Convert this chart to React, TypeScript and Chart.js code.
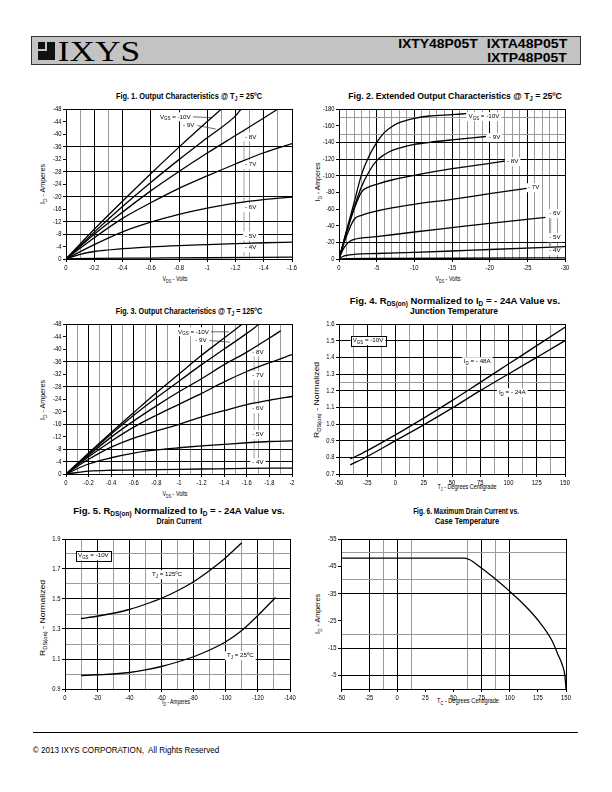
import React, { useEffect, useLayoutEffect, useRef, useState } from 'react';
import { Chart, registerables } from 'chart.js';

Chart.register(...registerables);

const SANS = "'Liberation Sans', Arial, Helvetica, sans-serif";
const SERIF = "'Liberation Serif', 'Times New Roman', serif";

// ---------------- Fig. 1 : Output Characteristics @ TJ = 25C (VDS V, ID A) ----------------
const fig1XLabels = [0, -0.2, -0.4, -0.6, -0.8, -1, -1.2, -1.4, -1.6];
const fig1YLabels = [0, -4, -8, -12, -16, -20, -24, -28, -32, -36, -40, -44, -48];
const fig1XBlack = [-0.2, -0.4, -0.6, -0.8, -1, -1.2, -1.4];
const fig1XGray = [-0.1, -0.3, -1.1, -1.3, -1.5];
const fig1YBlack = [-8, -12, -20, -28, -36];
const fig1YGray: number[] = [];
const fig1Vgs10 = [[0, 0], [-0.2, -9.5], [-0.4, -18.5], [-0.6, -27.3], [-0.8, -35.8], [-1.0, -44], [-1.1, -48]];
const fig1Vgs9 = [[0, 0], [-0.2, -8.6], [-0.4, -16.8], [-0.6, -24.5], [-0.8, -31.8], [-1.0, -38.8], [-1.2, -45.8], [-1.24, -48]];
const fig1Vgs8 = [[0, 0], [-0.2, -7.9], [-0.4, -15], [-0.6, -21.8], [-0.8, -28], [-1.0, -33.9], [-1.2, -39.5], [-1.4, -45.1], [-1.5, -48]];
const fig1Vgs7 = [[0, 0], [-0.2, -6.8], [-0.4, -13], [-0.6, -18], [-0.8, -22.6], [-1.0, -26.6], [-1.2, -30.4], [-1.4, -34], [-1.6, -36.9]];
const fig1Vgs6 = [[0, 0], [-0.2, -4.6], [-0.4, -8.7], [-0.6, -11.8], [-0.8, -14.3], [-1.0, -16.3], [-1.2, -17.9], [-1.4, -19], [-1.6, -19.8]];
const fig1Vgs5 = [[0, 0], [-0.1, -1.5], [-0.2, -2.4], [-0.4, -3.3], [-0.6, -3.9], [-0.8, -4.3], [-1.0, -4.6], [-1.2, -4.9], [-1.4, -5.2], [-1.6, -5.4]];
const fig1Vgs4 = [[0, 0], [-0.2, -0.2], [-0.6, -0.3], [-1.0, -0.4], [-1.6, -0.6]];

// ---------------- Fig. 2 : Extended Output Characteristics @ TJ = 25C ----------------
const fig2XLabels = [0, -5, -10, -15, -20, -25, -30];
const fig2YLabels = [0, -20, -40, -60, -80, -100, -120, -140, -160, -180];
const fig2XBlack = [-5, -10, -15, -20, -25];
const fig2XGray = [-1, -2, -3, -4, -6, -7, -8, -9, -11, -12, -13, -14, -16, -17, -18, -19, -21, -22, -23, -24, -26, -27, -28, -29];
const fig2YBlack = [-20, -100, -120, -140];
const fig2YGray = [-150, -170];
const fig2Vgs10 = [[0, 0], [-1, -34], [-2, -67.6], [-3, -101.6], [-4, -123.6], [-5, -139.6], [-6, -151.6], [-7, -158.8], [-8, -163.6], [-10, -168.8], [-12, -171.6], [-15, -173.2], [-16.9, -174.4]];
const fig2Vgs9 = [[0, 0], [-1, -33], [-2, -62], [-3, -87], [-4, -105], [-5, -118], [-6, -125], [-7, -130], [-8, -133], [-10, -137.5], [-12, -140], [-15, -143], [-19.5, -147]];
const fig2Vgs8 = [[0, 0], [-1, -31.6], [-2, -59.6], [-3, -80.5], [-4, -86.5], [-5, -89.6], [-7, -94.8], [-10, -100.4], [-15, -108.4], [-20, -114.8], [-22, -117.6]];
const fig2Vgs7 = [[0, 0], [-1, -27.5], [-2, -47.4], [-3, -52.4], [-5, -57.6], [-10, -65.6], [-15, -71.6], [-20, -78.4], [-24.9, -84.8]];
const fig2Vgs6 = [[0, 0], [-0.5, -11], [-1, -17.6], [-1.5, -21.5], [-2, -23.6], [-5, -26.8], [-10, -32.4], [-15, -37.6], [-20, -42.8], [-27.4, -50]];
const fig2Vgs5 = [[0, 0], [-0.5, -3], [-1, -4.4], [-2, -5.6], [-5, -6.6], [-10, -8], [-15, -9.6], [-20, -11.4], [-30, -14.8]];
const fig2Vgs4 = [[0, 0], [-1, -0.4], [-5, -0.6], [-15, -0.9], [-30, -1.4]];

// ---------------- Fig. 3 : Output Characteristics @ TJ = 125C ----------------
const fig3XLabels = [0, -0.2, -0.4, -0.6, -0.8, -1, -1.2, -1.4, -1.6, -1.8, -2];
const fig3YLabels = [0, -4, -8, -12, -16, -20, -24, -28, -32, -36, -40, -44, -48];
const fig3XBlack = [-0.2, -0.4, -0.6, -0.8, -1, -1.2, -1.4, -1.6, -1.8];
const fig3XGray = [-0.1, -0.3, -0.5, -0.7, -0.9, -1.1, -1.3, -1.5, -1.7, -1.9];
const fig3YBlack = [-4, -8, -16, -28, -36];
const fig3YGray: number[] = [];
const fig3Vgs10 = [[0, 0], [-0.2, -6.7], [-0.4, -13.3], [-0.6, -19.7], [-0.8, -26], [-1.0, -32], [-1.2, -38], [-1.4, -43.5], [-1.56, -48]];
const fig3Vgs9 = [[0, 0], [-0.2, -6.4], [-0.4, -12.8], [-0.6, -18.8], [-0.8, -24.4], [-1.0, -29.7], [-1.2, -35], [-1.4, -40], [-1.6, -45], [-1.71, -48]];
const fig3Vgs8 = [[0, 0], [-0.2, -6], [-0.4, -11.8], [-0.6, -17], [-0.8, -21.8], [-1.0, -26.3], [-1.2, -30.5], [-1.4, -35], [-1.6, -39], [-1.9, -45.8]];
const fig3Vgs7 = [[0, 0], [-0.2, -5.5], [-0.4, -10.5], [-0.6, -15], [-0.8, -18.8], [-1.0, -22.3], [-1.2, -25.8], [-1.4, -29.5], [-1.6, -32.8], [-1.8, -35.6], [-2.0, -38.2]];
const fig3Vgs6 = [[0, 0], [-0.2, -4.7], [-0.4, -8.6], [-0.6, -11.5], [-0.8, -13.8], [-1.0, -15.9], [-1.2, -18.3], [-1.4, -20.3], [-1.6, -22.2], [-1.8, -23.6], [-2.0, -24.8]];
const fig3Vgs5 = [[0, 0], [-0.2, -3.2], [-0.4, -5.2], [-0.6, -6.7], [-0.8, -7.7], [-1.0, -8.4], [-1.2, -9], [-1.4, -9.5], [-1.6, -10], [-1.8, -10.4], [-2.0, -10.6]];
const fig3Vgs4 = [[0, 0], [-0.2, -0.9], [-0.4, -1.2], [-0.8, -1.4], [-1.2, -1.6], [-1.6, -1.8], [-2.0, -1.9]];

// ---------------- Fig. 4 : RDS(on) normalized vs junction temperature ----------------
const fig4XLabels = [-50, -25, 0, 25, 50, 75, 100, 125, 150];
const fig4YLabels = [0.7, 0.8, 0.9, 1.0, 1.1, 1.2, 1.3, 1.4, 1.5, 1.6];
const fig4XBlack = [-25, 0, 25, 50, 75, 100, 125];
const fig4XGray = [-37.5, -12.5, 12.5, 37.5, 62.5, 87.5, 112.5, 137.5];
const fig4YBlack = [0.8, 0.9, 1.0, 1.1, 1.2, 1.3, 1.4, 1.5];
const fig4YGray = [1.25];
const fig4Temps = [-40, -25, 0, 25, 50, 75, 100, 125, 150];
const fig4Id48 = [0.79, 0.84, 0.935, 1.035, 1.14, 1.25, 1.36, 1.47, 1.58];
const fig4Id24 = [0.755, 0.805, 0.9, 0.995, 1.095, 1.2, 1.3, 1.4, 1.5];

// ---------------- Fig. 5 : RDS(on) normalized vs drain current ----------------
const fig5XLabels = [0, -20, -40, -60, -80, -100, -120, -140];
const fig5YLabels = [0.9, 1.1, 1.3, 1.5, 1.7, 1.9];
const fig5XBlack = [-20, -40, -60, -80, -100, -120];
const fig5XGray = [-10, -30, -50, -70, -90, -110, -130];
const fig5YBlack = [1.1, 1.3, 1.5, 1.7];
const fig5YGray = [1.0, 1.2, 1.4, 1.6, 1.8];
const fig5Id125 = [-10, -20, -30, -40, -50, -60, -70, -80, -90, -100, -110];
const fig5R125 = [1.37, 1.385, 1.405, 1.43, 1.465, 1.505, 1.555, 1.615, 1.69, 1.775, 1.875];
const fig5Id25 = [-10, -20, -30, -40, -50, -60, -70, -80, -90, -100, -110, -120, -131];
const fig5R25 = [0.99, 0.995, 1.0, 1.01, 1.027, 1.05, 1.08, 1.115, 1.16, 1.215, 1.29, 1.39, 1.51];

// ---------------- Fig. 6 : Maximum drain current vs case temperature ----------------
const fig6XLabels = [-50, -25, 0, 25, 50, 75, 100, 125, 150];
const fig6YLabels = [-55, -45, -35, -25, -15, -5];
const fig6XBlack = [-25, 0, 75, 100];
const fig6XGray = [-12.5, 12.5, 62.5, 87.5];
const fig6YBlack = [-35, -15, -5];
const fig6YGray = [-50, -40, -20];
const fig6Tc = [-50, 60, 75, 87.5, 100, 112.5, 125, 137.5, 143, 147, 149, 150];
const fig6Id = [-48, -48, -44.3, -40.2, -35.8, -31, -25.3, -17.8, -12.5, -8.5, -5, 0];

// ---------------- helpers ----------------
type Seg = { t: string; sub?: boolean };
type Note = { x: number; y: number; segs: Seg[]; box?: boolean };
type Leader = { x1: number; y1: number; x2: number; y2: number; gray?: boolean };
type AxisDef = { min: number; max: number; reverse?: boolean; labels: number[]; black: number[]; gray: number[]; fmt: (v: number) => string };
type Spec = { key: string; plot: number[]; x: AxisDef; y: AxisDef; series: number[][][]; notes: Note[]; leaders: Leader[] };

const S = (t: string): Seg => ({ t });
const B = (t: string): Seg => ({ t, sub: true });
const VGS10: Seg[] = [S('V'), B('GS'), S(' = -10V')];
const zip = (xs: number[], ys: number[]) => xs.map((x, i) => [x, ys[i]]);
const has = (list: number[], v: number) => list.some((a) => Math.abs(a - v) < 1e-6);
const fmtInt = (v: number) => String(v);
const fmt1 = (v: number) => v.toFixed(1);

const ML = 40, MT = 10, MR = 14, MB = 20;
const TICK = 7.5, SX = 0.78, NOTE = 6.2;

const specs: Spec[] = [
  {
    key: 'f1', plot: [66, 109, 292, 259],
    x: { min: -1.6, max: 0, reverse: true, labels: fig1XLabels, black: fig1XBlack, gray: fig1XGray, fmt: fmtInt },
    y: { min: -48, max: 0, reverse: true, labels: fig1YLabels, black: fig1YBlack, gray: fig1YGray, fmt: fmtInt },
    series: [fig1Vgs10, fig1Vgs9, fig1Vgs8, fig1Vgs7, fig1Vgs6, fig1Vgs5, fig1Vgs4],
    notes: [
      { x: -0.665, y: -45.5, segs: VGS10 }, { x: -0.828, y: -42.7, segs: [S('- 9V')] },
      { x: -1.267, y: -39.1, segs: [S('- 8V')] }, { x: -1.267, y: -30.2, segs: [S('- 7V')] },
      { x: -1.267, y: -16.4, segs: [S('- 6V')] }, { x: -1.267, y: -7.4, segs: [S('- 5V')] },
      { x: -1.267, y: -3.6, segs: [S('- 4V')] },
    ],
    leaders: [
      { x1: -0.9, y1: -45.5, x2: -1.035, y2: -45.2 }, { x1: -0.93, y1: -42.7, x2: -1.06, y2: -41.6 },
      { x1: -1.26, y1: -41, x2: -1.26, y2: -1, gray: true },
    ],
  },
  {
    key: 'f2', plot: [339, 109, 565, 259],
    x: { min: -30, max: 0, reverse: true, labels: fig2XLabels, black: fig2XBlack, gray: fig2XGray, fmt: fmtInt },
    y: { min: -180, max: 0, reverse: true, labels: fig2YLabels, black: fig2YBlack, gray: fig2YGray, fmt: fmtInt },
    series: [fig2Vgs10, fig2Vgs9, fig2Vgs8, fig2Vgs7, fig2Vgs6, fig2Vgs5, fig2Vgs4],
    notes: [
      { x: -17.2, y: -170.8, segs: VGS10 }, { x: -19.9, y: -145.6, segs: [S('- 9V')] },
      { x: -22.3, y: -116.8, segs: [S('- 8V')] }, { x: -25.1, y: -85.6, segs: [S('- 7V')] },
      { x: -27.9, y: -54.4, segs: [S('- 6V')] }, { x: -27.9, y: -25.6, segs: [S('- 5V')] },
      { x: -27.9, y: -10, segs: [S('- 4V')] },
    ],
    leaders: [{ x1: -28.1, y1: -52, x2: -28.1, y2: -7, gray: true }],
  },
  {
    key: 'f3', plot: [66, 324, 292, 474],
    x: { min: -2, max: 0, reverse: true, labels: fig3XLabels, black: fig3XBlack, gray: fig3XGray, fmt: fmtInt },
    y: { min: -48, max: 0, reverse: true, labels: fig3YLabels, black: fig3YBlack, gray: fig3YGray, fmt: fmtInt },
    series: [fig3Vgs10, fig3Vgs9, fig3Vgs8, fig3Vgs7, fig3Vgs6, fig3Vgs5, fig3Vgs4],
    notes: [
      { x: -0.992, y: -45.5, segs: VGS10 }, { x: -1.143, y: -42.7, segs: [S('- 9V')] },
      { x: -1.648, y: -39.1, segs: [S('- 8V')] }, { x: -1.648, y: -31.5, segs: [S('- 7V')] },
      { x: -1.648, y: -20.9, segs: [S('- 6V')] }, { x: -1.648, y: -12.6, segs: [S('- 5V')] },
      { x: -1.648, y: -3.6, segs: [S('- 4V')] },
    ],
    leaders: [
      { x1: -1.28, y1: -45.5, x2: -1.44, y2: -45.5 }, { x1: -1.27, y1: -42.7, x2: -1.45, y2: -42.2 },
      { x1: -1.665, y1: -40, x2: -1.665, y2: -3, gray: true },
    ],
  },
  {
    key: 'f4', plot: [339, 324, 565, 474],
    x: { min: -50, max: 150, labels: fig4XLabels, black: fig4XBlack, gray: fig4XGray, fmt: fmtInt },
    y: { min: 0.7, max: 1.6, labels: fig4YLabels, black: fig4YBlack, gray: fig4YGray, fmt: fmt1 },
    series: [zip(fig4Temps, fig4Id48), zip(fig4Temps, fig4Id24)],
    notes: [
      { x: -37.9, y: 1.5, segs: VGS10, box: true },
      { x: 60.5, y: 1.374, segs: [S('I'), B('D'), S(' = - 48A')] },
      { x: 91.5, y: 1.188, segs: [S('I'), B('D'), S(' = - 24A')] },
    ],
    leaders: [],
  },
  {
    key: 'f5', plot: [65, 539, 290, 689],
    x: { min: -140, max: 0, reverse: true, labels: fig5XLabels, black: fig5XBlack, gray: fig5XGray, fmt: fmtInt },
    y: { min: 0.9, max: 1.9, labels: fig5YLabels, black: fig5YBlack, gray: fig5YGray, fmt: fmt1 },
    series: [zip(fig5Id125, fig5R125), zip(fig5Id25, fig5R25)],
    notes: [
      { x: -8.1, y: 1.789, segs: VGS10, box: true },
      { x: -54.1, y: 1.662, segs: [S('T'), B('J'), S(' = 125ºC')] },
      { x: -100.8, y: 1.122, segs: [S('T'), B('J'), S(' = 25ºC')] },
    ],
    leaders: [],
  },
  {
    key: 'f6', plot: [341, 539, 566, 689],
    x: { min: -50, max: 150, labels: fig6XLabels, black: fig6XBlack, gray: fig6XGray, fmt: fmtInt },
    y: { min: -55, max: 0, reverse: true, labels: fig6YLabels, black: fig6YBlack, gray: fig6YGray, fmt: fmtInt },
    series: [zip(fig6Tc, fig6Id)],
    notes: [],
    leaders: [],
  },
];

function measureRich(ctx: CanvasRenderingContext2D, segs: Seg[], size: number) {
  let w = 0;
  for (const s of segs) {
    ctx.font = `${s.sub ? size * 0.72 : size}px ${SANS}`;
    w += ctx.measureText(s.t).width;
  }
  return w;
}
function drawRich(ctx: CanvasRenderingContext2D, segs: Seg[], x: number, y: number, size: number) {
  let cx = x;
  ctx.textAlign = 'left';
  ctx.textBaseline = 'middle';
  for (const s of segs) {
    ctx.font = `${s.sub ? size * 0.72 : size}px ${SANS}`;
    ctx.fillText(s.t, cx, y + (s.sub ? size * 0.3 : 0));
    cx += ctx.measureText(s.t).width;
  }
}

function axisOptions(ax: AxisDef, isX: boolean) {
  const all = Array.from(new Set([...ax.labels, ...ax.black, ...ax.gray])).sort((a, b) => a - b);
  return {
    type: 'linear',
    min: ax.min,
    max: ax.max,
    reverse: !!ax.reverse,
    afterBuildTicks: (s: any) => { s.ticks = all.map((v) => ({ value: v })); },
    afterFit: (s: any) => { if (isX) s.height = MB; else s.width = ML; },
    ticks: { display: false },
    grid: {
      drawTicks: true,
      tickLength: 3,
      lineWidth: 1,
      color: (c: any) => {
        const v = c.tick ? c.tick.value : NaN;
        return has(ax.black, v) ? '#000' : has(ax.gray, v) ? '#9a9a9a' : 'rgba(0,0,0,0)';
      },
      tickColor: (c: any) => (c.tick && has(ax.labels, c.tick.value) ? '#000' : 'rgba(0,0,0,0)'),
    },
    border: { display: false },
  };
}

function decor(spec: Spec) {
  return {
    id: 'decor_' + spec.key,
    beforeDatasetsDraw(chart: any) {
      const ctx: CanvasRenderingContext2D = chart.ctx;
      const xs = chart.scales.x, ys = chart.scales.y;
      ctx.save();
      for (const l of spec.leaders) {
        ctx.strokeStyle = l.gray ? '#8c8c8c' : '#444';
        ctx.lineWidth = 0.8;
        ctx.beginPath();
        ctx.moveTo(xs.getPixelForValue(l.x1), ys.getPixelForValue(l.y1));
        ctx.lineTo(xs.getPixelForValue(l.x2), ys.getPixelForValue(l.y2));
        ctx.stroke();
      }
      for (const n of spec.notes) {
        const px = xs.getPixelForValue(n.x), py = ys.getPixelForValue(n.y);
        const w = measureRich(ctx, n.segs, NOTE);
        ctx.fillStyle = '#fff';
        ctx.fillRect(px - 2, py - 4.5, w + 4, 9);
        if (n.box) {
          ctx.strokeStyle = '#000';
          ctx.lineWidth = 1;
          ctx.strokeRect(Math.round(px - 2) + 0.5, Math.round(py - 5) + 0.5, Math.round(w + 4), 10);
        }
        ctx.fillStyle = '#000';
        drawRich(ctx, n.segs, px, py, NOTE);
      }
      ctx.restore();
    },
    afterDraw(chart: any) {
      const ctx: CanvasRenderingContext2D = chart.ctx;
      const a = chart.chartArea;
      const xs = chart.scales.x, ys = chart.scales.y;
      ctx.save();
      ctx.strokeStyle = '#000';
      ctx.lineWidth = 1;
      ctx.strokeRect(Math.round(a.left) + 0.5, Math.round(a.top) + 0.5, Math.round(a.right - a.left), Math.round(a.bottom - a.top));
      ctx.fillStyle = '#000';
      ctx.font = `${TICK}px ${SANS}`;
      ctx.textBaseline = 'middle';
      for (const v of spec.x.labels) {
        ctx.save();
        ctx.translate(xs.getPixelForValue(v), a.bottom + 8.6);
        ctx.scale(SX, 1);
        ctx.textAlign = 'center';
        ctx.fillText(spec.x.fmt(v), 0, 0);
        ctx.restore();
      }
      for (const v of spec.y.labels) {
        ctx.save();
        ctx.translate(a.left - 4.5, ys.getPixelForValue(v));
        ctx.scale(SX, 1);
        ctx.textAlign = 'right';
        ctx.fillText(spec.y.fmt(v), 0, 0);
        ctx.restore();
      }
      ctx.restore();
    },
  };
}

function PlotCanvas({ spec }: { spec: Spec }) {
  const ref = useRef<HTMLCanvasElement>(null);
  const [l, t, r, b] = spec.plot;
  const W = r - l + ML + MR;
  const H = b - t + MT + MB;
  useEffect(() => {
    if (!ref.current) return;
    const chart = new Chart(ref.current, {
      type: 'line',
      data: {
        datasets: spec.series.map((pts) => ({
          data: pts.map(([x, y]) => ({ x, y })),
          borderColor: '#000',
          borderWidth: 1.3,
          pointRadius: 0,
          fill: false,
          cubicInterpolationMode: 'monotone',
        })),
      },
      options: {
        responsive: false,
        animation: false,
        devicePixelRatio: 1,
        events: [],
        layout: { padding: { left: 0, top: MT, right: MR, bottom: 0 } },
        plugins: { legend: { display: false }, tooltip: { enabled: false } },
        scales: { x: axisOptions(spec.x, true), y: axisOptions(spec.y, false) } as any,
      },
      plugins: [decor(spec)],
    } as any);
    return () => chart.destroy();
  }, [spec]);
  return <canvas ref={ref} width={W} height={H} style={{ position: 'absolute', left: l - ML, top: t - MT, width: W, height: H }} />;
}

function Sb({ children }: { children: React.ReactNode }) {
  return <span style={{ fontSize: '68%', position: 'relative', top: '0.3em' }}>{children}</span>;
}

function FitText(props: { x: number; y: number; w: number; size: number; bold?: boolean; family?: string; rot?: boolean; children: React.ReactNode }) {
  const ref = useRef<HTMLDivElement>(null);
  const [sx, setSx] = useState(1);
  useLayoutEffect(() => {
    const el = ref.current;
    if (el && el.offsetWidth > 0) setSx(props.w / el.offsetWidth);
  }, [props.w]);
  return (
    <div
      ref={ref}
      style={{
        position: 'absolute', left: props.x, top: props.y, whiteSpace: 'pre', lineHeight: 1,
        fontSize: props.size, fontWeight: props.bold ? 'bold' : 'normal', fontFamily: props.family || SANS, color: '#000',
        transform: `translate(-50%, -50%) ${props.rot ? 'rotate(-90deg) ' : ''}scaleX(${sx})`,
      }}
    >
      {props.children}
    </div>
  );
}

export default function App() {
  return (
    <div style={{ position: 'absolute', left: 0, top: 0, width: 612, height: 792, background: '#fff', overflow: 'hidden', fontFamily: SANS }}>
      {/* header */}
      <div style={{ position: 'absolute', left: 31, top: 36, width: 550, height: 29, background: '#c3c3c3', border: '1px solid #333', boxSizing: 'border-box' }} />
      <div style={{ position: 'absolute', left: 38, top: 42, width: 17, height: 18, background: '#111' }}>
        <div style={{ position: 'absolute', left: 7, top: 0, width: 2, height: 9, background: '#c3c3c3' }} />
        <div style={{ position: 'absolute', left: 0, top: 7, width: 9, height: 2, background: '#c3c3c3' }} />
      </div>
      <FitText x={99} y={51} w={83} size={29} family={SERIF}>IXYS</FitText>
      <FitText x={438} y={44} w={80} size={12} bold>IXTY48P05T</FitText>
      <FitText x={527} y={44} w={80} size={12} bold>IXTA48P05T</FitText>
      <FitText x={527} y={58} w={80} size={12} bold>IXTP48P05T</FitText>

      {/* titles */}
      <FitText x={189} y={96} w={146} size={9.5} bold>Fig. 1. Output Characteristics @ T<Sb>J</Sb> = 25ºC</FitText>
      <FitText x={455} y={96} w={214} size={9.5} bold>Fig. 2. Extended Output Characteristics @ T<Sb>J</Sb> = 25ºC</FitText>
      <FitText x={189} y={311} w={146} size={9.5} bold>Fig. 3. Output Characteristics @ T<Sb>J</Sb> = 125ºC</FitText>
      <FitText x={455} y={301} w={211} size={9.5} bold>Fig. 4. R<Sb>DS(on)</Sb> Normalized to I<Sb>D</Sb> = - 24A Value vs.</FitText>
      <FitText x={454} y={311} w={88} size={9.5} bold>Junction Temperature</FitText>
      <FitText x={179} y={511} w={212} size={9.5} bold>Fig. 5. R<Sb>DS(on)</Sb> Normalized to I<Sb>D</Sb> = - 24A Value vs.</FitText>
      <FitText x={179} y={521} w={45} size={9.5} bold>Drain Current</FitText>
      <FitText x={466} y={511} w={106} size={9.5} bold>Fig. 6. Maximum Drain Current vs.</FitText>
      <FitText x={467} y={521} w={64} size={9.5} bold>Case Temperature</FitText>

      {/* axis titles */}
      <FitText x={175} y={279} w={25} size={7.5}>V<Sb>DS</Sb> - Volts</FitText>
      <FitText x={43} y={184} w={40} size={7.5} rot>I<Sb>D</Sb> - Amperes</FitText>
      <FitText x={448} y={279} w={25} size={7.5}>V<Sb>DS</Sb> - Volts</FitText>
      <FitText x={318} y={182} w={39} size={7.5} rot>I<Sb>D</Sb> - Amperes</FitText>
      <FitText x={175} y={494} w={25} size={7.5}>V<Sb>DS</Sb> - Volts</FitText>
      <FitText x={43} y={400} w={40} size={7.5} rot>I<Sb>D</Sb> - Amperes</FitText>
      <FitText x={467} y={487} w={59} size={7.5}>T<Sb>J</Sb> - Degrees Centigrade</FitText>
      <FitText x={317} y={400} w={76} size={7.5} rot>R<Sb>DS(on)</Sb> - Normalized</FitText>
      <FitText x={176} y={702} w={28} size={7.5}>I<Sb>D</Sb> - Amperes</FitText>
      <FitText x={43} y={618} w={76} size={7.5} rot>R<Sb>DS(on)</Sb> - Normalized</FitText>
      <FitText x={468} y={701} w={62} size={7.5}>T<Sb>C</Sb> - Degrees Centigrade</FitText>
      <FitText x={318} y={614} w={40} size={7.5} rot>I<Sb>D</Sb> - Amperes</FitText>

      {specs.map((s) => <PlotCanvas key={s.key} spec={s} />)}

      {/* footer */}
      <div style={{ position: 'absolute', left: 33, top: 732, width: 545, height: 1, background: '#000' }} />
      <FitText x={126} y={750} w={187} size={8.5}>© 2013 IXYS CORPORATION,  All Rights Reserved</FitText>
    </div>
  );
}
